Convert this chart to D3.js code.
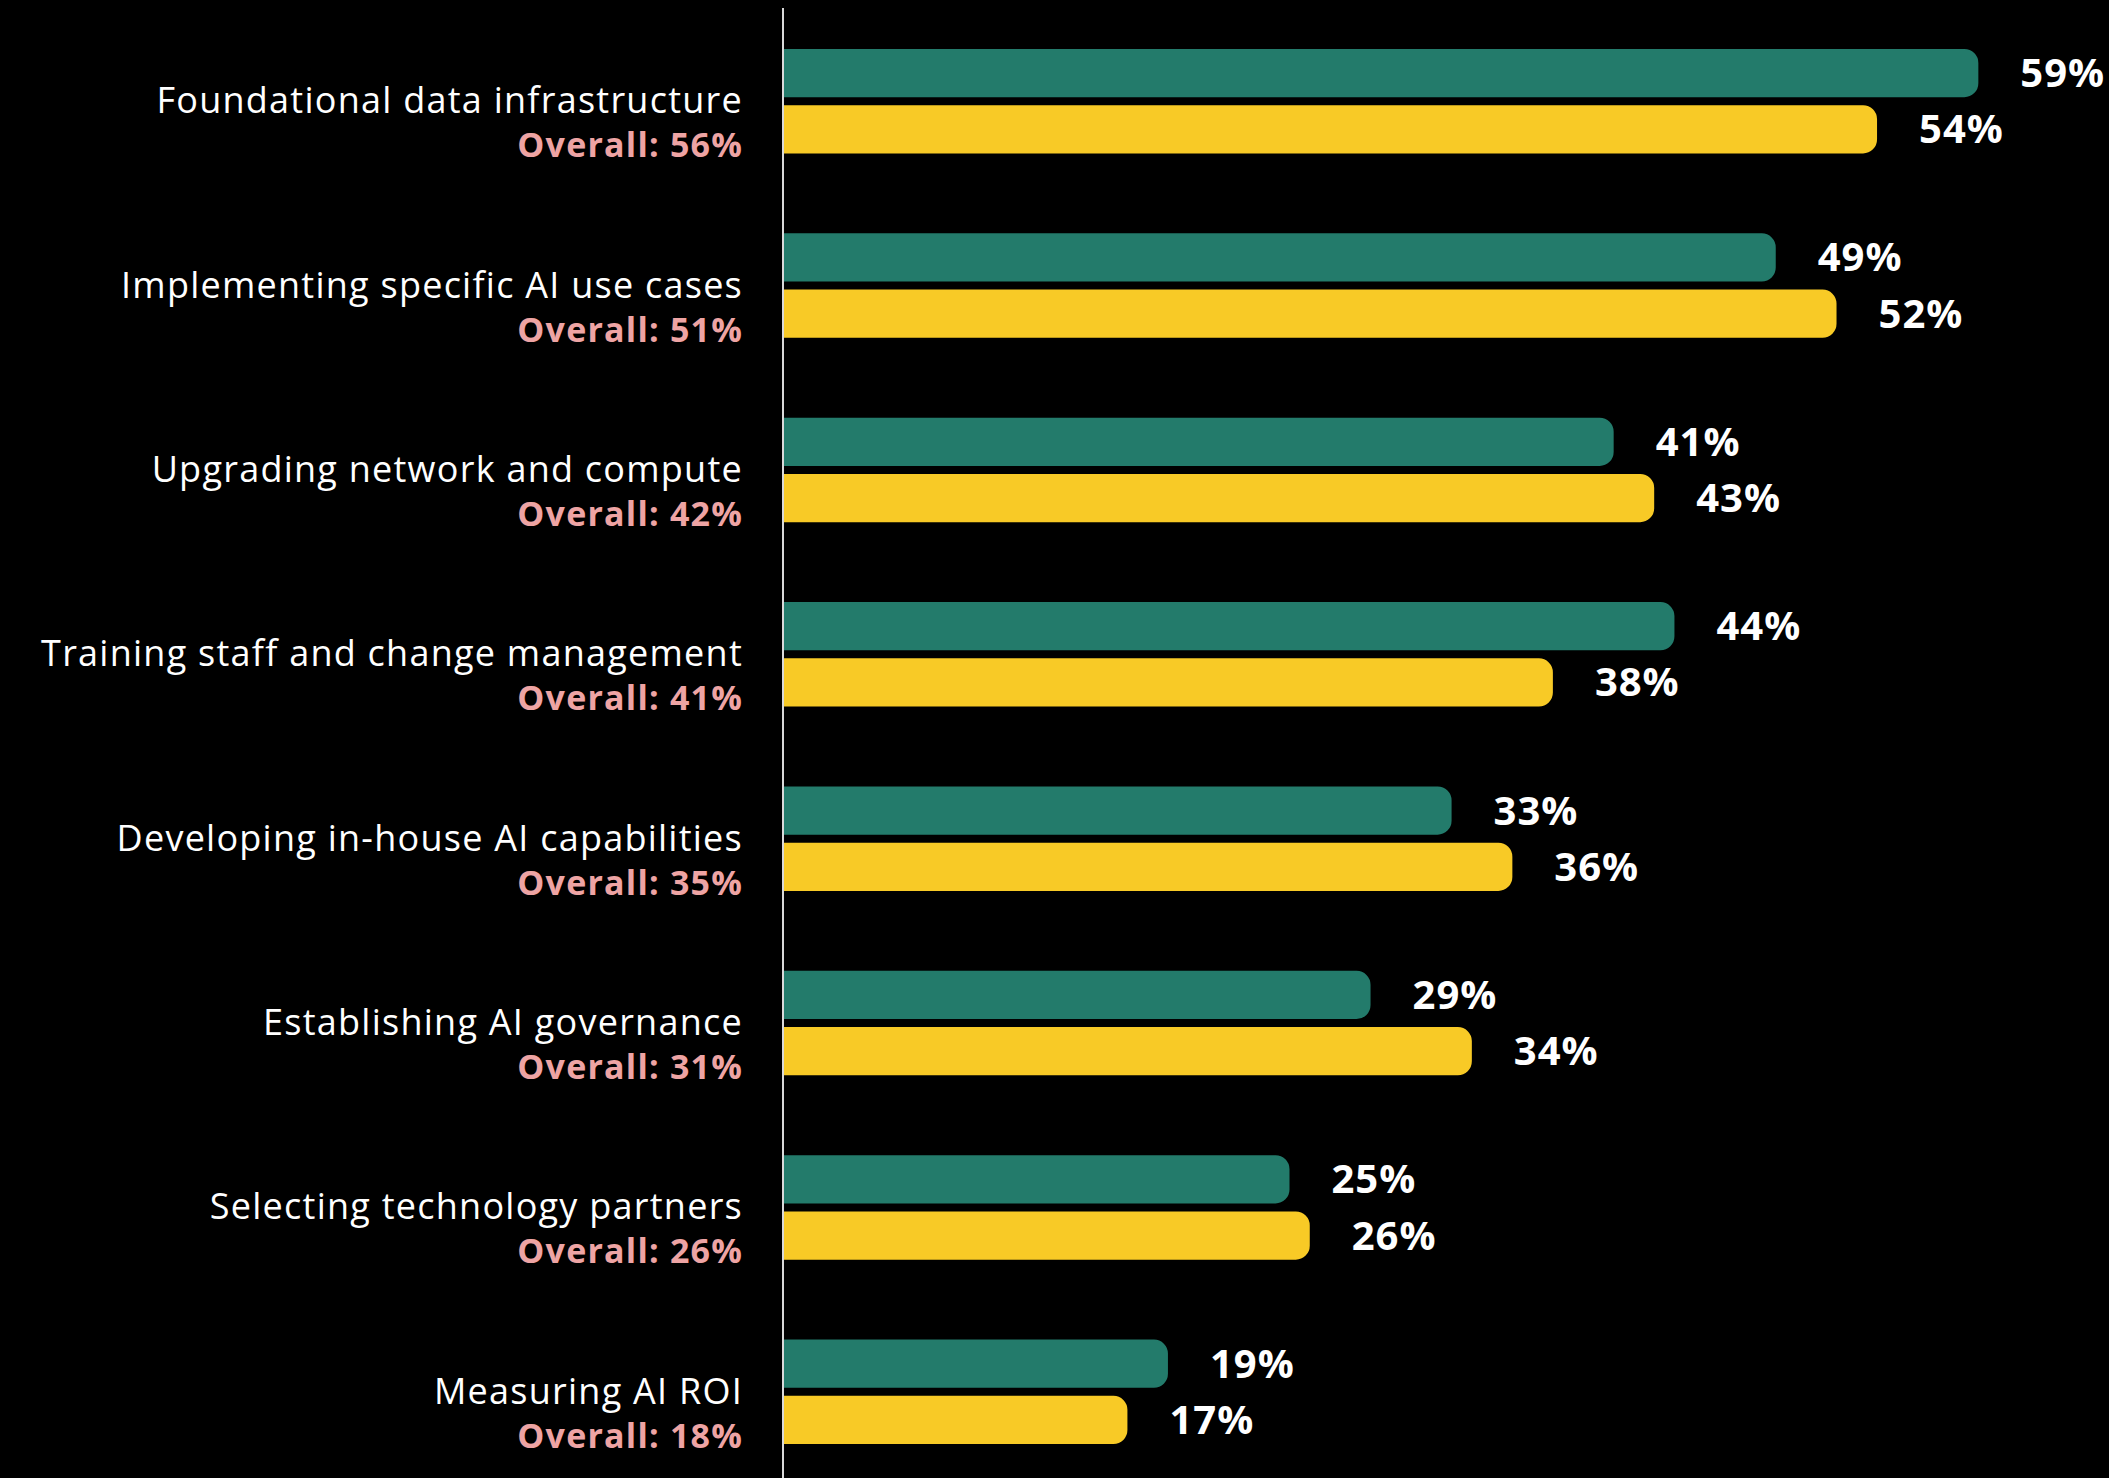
<!DOCTYPE html>
<html>
<head>
<meta charset="utf-8">
<script src="https://cdn.jsdelivr.net/npm/d3@7"></script>
<style>
  html, body { margin: 0; padding: 0; background: #000; }
  svg { display: block; }
</style>
</head>
<body>
<svg id="chart" width="2109" height="1478"></svg>
<script>
const categories = [
  "Foundational data infrastructure",
  "Implementing specific AI use cases",
  "Upgrading network and compute",
  "Training staff and change management",
  "Developing in-house AI capabilities",
  "Establishing AI governance",
  "Selecting technology partners",
  "Measuring AI ROI"
];
const overall = [56, 51, 42, 41, 35, 31, 26, 18];
const seriesNames = ["green", "yellow"];
const greenValues = [59, 49, 41, 44, 33, 29, 25, 19];
const yellowValues = [54, 52, 43, 38, 36, 34, 26, 17];
const colors = { green: "#237b6b", yellow: "#f8ca26" };

const W = 2109, H = 1478;
const axisX = 783;
const svg = d3.select("#chart");
svg.append("rect").attr("width", W).attr("height", H).attr("fill", "#000");

const x = d3.scaleLinear().domain([0, 100]).range([axisX, axisX + 2026]);
const y = d3.scaleBand().domain(categories).range([49, 1444]).paddingInner(80 / 184.4).paddingOuter(0);
const ySub = d3.scaleBand().domain(seriesNames).range([0, y.bandwidth()]).paddingInner(8 / 56);

const rows = categories.map((c, i) => ({
  cat: c, overall: overall[i],
  vals: [{ s: "green", v: greenValues[i] }, { s: "yellow", v: yellowValues[i] }]
}));

function barPath(x0, x1, y0, h, r) {
  r = Math.min(r, (x1 - x0), h / 2);
  return `M${x0},${y0}H${x1 - r}A${r},${r} 0 0 1 ${x1},${y0 + r}V${y0 + h - r}A${r},${r} 0 0 1 ${x1 - r},${y0 + h}H${x0}Z`;
}

const g = svg.selectAll("g.row").data(rows).join("g")
  .attr("class", "row")
  .attr("transform", d => `translate(0,${y(d.cat)})`);

g.selectAll("path.bar").data(d => d.vals).join("path")
  .attr("class", "bar")
  .attr("fill", d => colors[d.s])
  .attr("d", d => barPath(x(0), x(d.v), ySub(d.s), ySub.bandwidth(), 14));

g.selectAll("text.val").data(d => d.vals).join("text")
  .attr("class", "val")
  .attr("x", d => x(d.v) + 42)
  .attr("y", d => ySub(d.s) + ySub.bandwidth() / 2 + 14)
  .attr("fill", "#fff")
  .attr("font-family", "'Open Sans', sans-serif")
  .attr("font-weight", 700)
  .attr("font-size", 40)
  .attr("letter-spacing", 1)
  .text(d => d.v + "%");

const mid = y.bandwidth() / 2;
g.append("text")
  .attr("x", 743)
  .attr("y", mid + 12)
  .attr("text-anchor", "end")
  .attr("fill", "#fff")
  .attr("font-family", "'Open Sans', sans-serif")
  .attr("font-weight", 400)
  .attr("font-size", 36)
  .attr("letter-spacing", 1.25)
  .text(d => d.cat);

g.append("text")
  .attr("x", 743)
  .attr("y", mid + 56)
  .attr("text-anchor", "end")
  .attr("fill", "#eea4a4")
  .attr("font-family", "'Open Sans', sans-serif")
  .attr("font-weight", 700)
  .attr("font-size", 34)
  .attr("letter-spacing", 1.2)
  .text(d => "Overall: " + d.overall + "%");

svg.append("line")
  .attr("x1", axisX).attr("x2", axisX)
  .attr("y1", 8).attr("y2", H)
  .attr("stroke", "#d9d9d9").attr("stroke-width", 2);
</script>
</body>
</html>
